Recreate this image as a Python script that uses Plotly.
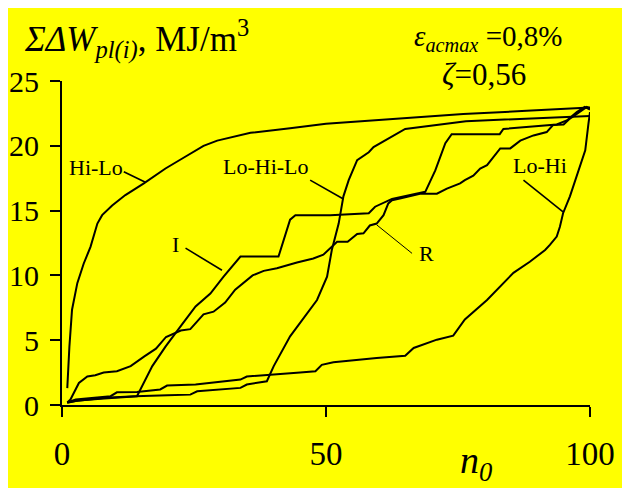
import plotly.graph_objects as go

# cumulative plastic energy vs number of cycles
hilo_x = [1.0, 1.4, 1.9, 2.9, 4.1, 5.4, 6.7, 7.6, 9.5, 12, 15.5, 19.6, 22.7, 25.3, 26.8, 29.4,
          35.7, 43.2, 50, 60, 76, 88, 100]
hilo_y = [1.3, 4.5, 7.35, 9.4, 10.9, 12.2, 14.0, 14.65, 15.4, 16.2, 17.1, 18.25, 19.0, 19.65, 20.0, 20.4,
          21.0, 21.35, 21.7, 22.0, 22.45, 22.7, 22.95]

lohilo_x = [1, 2.6, 8.2, 13.9, 20, 24.3, 25.6, 33.8, 35, 38.8, 40.1, 43.2, 48.3, 50.2, 51.1, 52.4,
            53.3, 54.3, 55.9, 58.1, 59, 65, 76.5, 88, 100]
lohilo_y = [0.17, 0.3, 0.55, 0.68, 0.75, 0.8, 1.06, 1.32, 1.58, 1.83, 3.0, 5.3, 8.1, 9.9, 11.96, 14.0,
            16.1, 17.35, 18.9, 19.5, 19.9, 21.3, 21.9, 22.1, 22.3]

i_x = [1, 3, 8, 12, 14.2, 17.1, 19.6, 22.7, 25.3, 28.1, 30.6, 33.8, 41, 43.2, 44.2, 50.8, 58.1, 59.3,
       62.5, 68.8, 70.7, 72.6, 73.8, 82.9, 83.6, 93.7, 95.6, 97.5, 99, 100]
i_y = [0.2, 0.35, 0.5, 0.6, 0.68, 3.0, 4.5, 6.2, 7.6, 8.6, 9.9, 11.45, 11.45, 14.3, 14.65, 14.65, 14.8, 15.3,
       15.9, 16.45, 18.1, 20.2, 20.9, 20.9, 21.3, 21.65, 21.96, 22.6, 23.0, 22.8]

r_x = [1, 1.6, 3.2, 4.8, 6.3, 7.9, 10.4, 13.0, 15.6, 17.8, 19.7, 20.5, 22.5, 24.3, 26.8, 28.7, 30.9,
       32.8, 36.1, 38.2, 40.7, 44.5, 47.6, 49.5, 52.1, 54.1, 55.9, 57.1, 58.3, 59.6, 60.9, 61.8, 62.5,
       64.2, 67.8, 71, 72.9, 75.4, 76.3, 77.9, 79.2, 80.5, 83, 84.9, 86.8, 89.3, 91.8, 93, 95, 96.2,
       98.1, 99.4, 100]
r_y = [0.2, 0.42, 1.7, 2.2, 2.3, 2.5, 2.6, 3.0, 3.75, 4.35, 5.25, 5.4, 5.75, 5.85, 7.0, 7.2, 7.9,
       8.9, 10.0, 10.35, 10.55, 11.0, 11.3, 11.6, 12.6, 12.6, 13.2, 13.25, 13.85, 14.0, 14.65, 15.55, 15.8,
       15.95, 16.3, 16.3, 16.7, 17.1, 17.35, 17.7, 18.25, 18.5, 19.8, 19.8, 20.4, 20.8, 21.06, 21.6, 21.65, 22.1,
       22.6, 23.0, 22.9]

lohi_x = [1, 2.6, 9.2, 10.4, 14.2, 18.6, 19.9, 25.3, 33.8, 35, 45.1, 48.0, 49.2, 51.4, 59.6, 65,
          66.6, 71, 74.1, 76.3, 80.5, 85.5, 88.6, 91.5, 92.4, 93.7, 94.3, 94.9, 96.2, 97.8, 99.1, 99.7, 100]
lohi_y = [0.2, 0.42, 0.68, 0.98, 1.0, 1.2, 1.5, 1.58, 1.96, 2.2, 2.5, 2.6, 3.1, 3.3, 3.63, 3.8,
          4.4, 5.04, 5.35, 6.6, 8.1, 10.2, 11.05, 11.96, 12.35, 13.0, 13.75, 14.8, 16.1, 18.1, 19.65, 21.7, 22.6]

series = [
    ("Hi-Lo", hilo_x, hilo_y),
    ("Lo-Hi-Lo", lohilo_x, lohilo_y),
    ("I", i_x, i_y),
    ("R", r_x, r_y),
    ("Lo-Hi", lohi_x, lohi_y),
]

# label text position, then leader line start / end (data units)
labels = [
    ("Hi-Lo", 6.5, 18.3, 11.7, 18.0, 15.7, 17.2, 1.6),
    ("Lo-Hi-Lo", 38.7, 18.4, 47.0, 17.35, 53.3, 15.9, 1.6),
    ("I", 21.5, 12.4, 23.4, 12.1, 30.3, 10.4, 1.6),
    ("R", 69.0, 11.7, 59.6, 13.9, 66.3, 11.7, 1.0),
    ("Lo-Hi", 90.5, 18.5, 87.4, 17.35, 94.9, 14.9, 1.6),
]

FONT = "Liberation Serif, Times New Roman, serif"
YELLOW = "#FFFF00"

fig = go.Figure()

for name, xs, ys in series:
    fig.add_trace(go.Scatter(x=xs, y=ys, mode="lines", name=name,
                             line=dict(color="black", width=2), showlegend=False))

for text, tx, ty, x0, y0, x1, y1, w in labels:
    fig.add_annotation(x=tx, y=ty, text=text, showarrow=False,
                       font=dict(family=FONT, size=22, color="black"))
    fig.add_shape(type="line", x0=x0, y0=y0, x1=x1, y1=y1,
                  line=dict(color="black", width=w))

fig.add_annotation(xref="paper", yref="paper", x=-0.075, y=1.13, xanchor="left", yanchor="middle",
                   text="<i>ΣΔW</i><sub><i>pl(i)</i></sub>, MJ/m<sup>3</sup>", showarrow=False,
                   font=dict(family=FONT, size=35, color="black"))
fig.add_annotation(xref="paper", yref="paper", x=0.806, y=1.132, xanchor="center", yanchor="middle",
                   text="<i>ε</i><sub><i>acmax</i></sub> =0,8%", showarrow=False,
                   font=dict(family=FONT, size=29, color="black"))
fig.add_annotation(xref="paper", yref="paper", x=0.80, y=1.02, xanchor="center", yanchor="middle",
                   text="<i>ζ</i>=0,56", showarrow=False,
                   font=dict(family=FONT, size=31, color="black"))
fig.add_annotation(xref="paper", yref="paper", x=0.75, y=-0.18, xanchor="left", yanchor="middle",
                   text="<i>n</i><sub><i>0</i></sub>", showarrow=False,
                   font=dict(family=FONT, size=38, color="black"))

fig.update_xaxes(range=[0, 100], tickvals=[0, 50, 100], showgrid=False, zeroline=False,
                 showline=True, linecolor="black", linewidth=2, ticks="outside", ticklen=10,
                 tickwidth=2, tickcolor="black", ticklabelstandoff=8, automargin=False,
                 tickfont=dict(family=FONT, size=33, color="black"))
fig.update_yaxes(range=[0, 25], tickvals=[0, 5, 10, 15, 20, 25], showgrid=False, zeroline=False,
                 showline=True, linecolor="black", linewidth=2, ticks="outside", ticklen=10,
                 tickwidth=2, tickcolor="black", ticklabelstandoff=5, automargin=False,
                 tickfont=dict(family=FONT, size=30, color="black"))

# the page puts the figure 8px in from the top-left corner
fig.update_layout(width=622, height=480, margin=dict(l=53.5, r=40, t=72.5, b=82.5, autoexpand=False),
                  paper_bgcolor=YELLOW, plot_bgcolor=YELLOW)

fig.write_html("out.html")
